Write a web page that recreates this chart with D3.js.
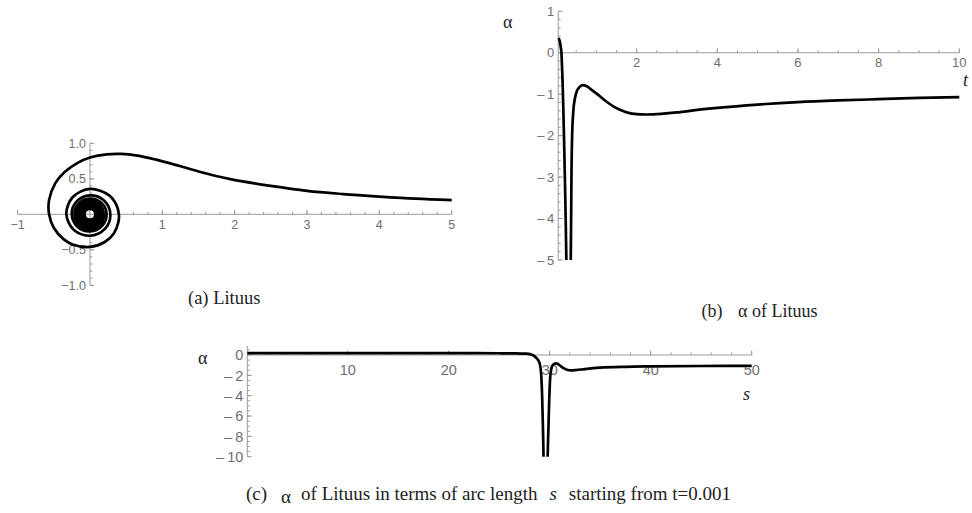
<!DOCTYPE html>
<html>
<head>
<meta charset="utf-8">
<script src="https://cdn.jsdelivr.net/npm/d3@7"></script>
<style>
  body { margin: 0; background: #fff; }
  svg { display: block; }
  .tick-label { font-family: "Liberation Sans", Arial, sans-serif; fill: #6e6e6e; }
  .serif { font-family: "Liberation Serif", "Times New Roman", serif; fill: #222; }
</style>
</head>
<body>
<svg id="chart" width="972" height="513"></svg>
<script>
// (a) lituus, points, outer end first
var spiralX = [5.00, 4.50, 4.00, 3.50, 3.00, 2.50, 1.94, 1.59, 1.24, 0.91, 0.655, 0.43, 0.235, 0.00,
  -0.17, -0.35, -0.48, -0.565, -0.565, -0.50, -0.365, -0.24, 0.00, 0.205, 0.33, 0.392, 0.40,
  0.362, 0.266, 0.00, -0.24, -0.326, -0.221, 0.00, 0.206, 0.282,
  0.194, 0.00, -0.183, -0.252, -0.174, 0.00, 0.166, 0.230,
  0.160, 0.00, -0.154, -0.213, -0.148, 0.00, 0.143, 0.1995];
var spiralY = [0.20, 0.22, 0.25, 0.285, 0.33, 0.40, 0.495, 0.58, 0.68, 0.77, 0.826, 0.85, 0.845, 0.80,
  0.725, 0.595, 0.435, 0.20, 0.00, -0.19, -0.35, -0.425, -0.46, -0.39, -0.27, -0.114, 0.00,
  0.139, 0.266, 0.357, 0.24, 0.00, -0.221, -0.302, -0.206, 0.00,
  0.194, 0.266, 0.183, 0.00, -0.174, -0.241, -0.166, 0.00,
  0.160, 0.221, 0.154, 0.00, -0.148, -0.206, -0.143, 0.00];
// the dense windings near the pole that merge into a black disc
var coreR = [0.19, 0.178, 0.166, 0.154, 0.142, 0.130, 0.118, 0.106, 0.094, 0.083, 0.074];
var aXTicks = [-1, 1, 2, 3, 4, 5];
var aYTicks = [-1, -0.5, 0.5, 1];

// (b) alpha against t
var bT = [0.057, 0.08, 0.10, 0.12, 0.135, 0.15, 0.165, 0.18, 0.20, 0.22, 0.24, 0.26, 0.28,
  0.33, 0.36, 0.375, 0.385, 0.40, 0.43, 0.47, 0.52, 0.58, 0.66, 0.75, 0.85, 1.0, 1.2, 1.4,
  1.6, 1.8, 2.0, 2.2, 2.5, 3.0, 3.5, 4.0, 5.0, 6.0, 7.0, 8.0, 9.0, 10.0];
var bAlpha = [0.35, 0.32, 0.25, 0.12, 0.0, -0.35, -0.75, -1.3, -2.1, -3.0, -4.0, -5.2, -6.5,
  -7.0, -5.6, -4.0, -2.8, -2.0, -1.4, -1.1, -0.92, -0.83, -0.78, -0.80, -0.87, -0.98, -1.14, -1.28,
  -1.38, -1.45, -1.48, -1.49, -1.48, -1.44, -1.38, -1.33, -1.25, -1.19, -1.15, -1.12, -1.09, -1.07];
var bXTicks = [2, 4, 6, 8, 10];
var bYTicks = [1, 0, -1, -2, -3, -4, -5];

// (c) alpha against arc length s
var cS = [0.06, 5, 10, 15, 20, 25, 26.5, 27.7, 28.3, 28.7, 29.0, 29.15, 29.25, 29.35, 29.42,
  29.75, 29.85, 29.95, 30.05, 30.2, 30.4, 30.65, 30.9, 31.3, 31.7, 32.1, 32.6, 33.5, 35, 37.5, 40, 45, 50];
var cAlpha = [0.18, 0.18, 0.18, 0.18, 0.18, 0.17, 0.16, 0.13, 0.0, -0.3, -0.8, -1.8, -4.0, -8.0, -11,
  -11, -8.0, -4.5, -2.2, -1.2, -0.9, -0.82, -0.95, -1.25, -1.45, -1.52, -1.48, -1.38, -1.25, -1.16, -1.12, -1.08, -1.06];
var cXTicks = [10, 20, 30, 40, 50];
var cYTicks = [0, -2, -4, -6, -8, -10];

var svg = d3.select("#chart");
svg.append("rect").attr("width", 972).attr("height", 513).attr("fill", "#fff");

//wide minus like the one mathematica puts in front of negative tick labels
var wideMinus = function(d){ return d < 0 ? "\u2013\u2009" + Math.abs(d) : String(d); };

//mathematica style axes: ticks point inwards, labels outside
function drawAxes(g, sx, sy, o){
	var y0 = sy(o.xAt), x0 = sx(o.yAt);
	var axis = g.append("g").attr("stroke", "#9a9a9a").attr("stroke-width", 1);

	axis.append("line").attr("x1", sx(o.xRange[0])).attr("x2", sx(o.xRange[1]))
		.attr("y1", y0).attr("y2", y0);
	axis.append("line").attr("x1", x0).attr("x2", x0)
		.attr("y1", sy(o.yRange[0])).attr("y2", sy(o.yRange[1]));

	var xMinor = d3.range(Math.ceil(o.xRange[0] / o.xStep) * o.xStep, o.xRange[1] + 1e-9, o.xStep)
		.filter(function(v){ return Math.abs(v) > 1e-9 && v > o.yAt; });
	var yMinor = d3.range(Math.ceil(o.yRange[0] / o.yStep) * o.yStep, o.yRange[1] + 1e-9, o.yStep)
		.filter(function(v){ return Math.abs(v) > 1e-9; });

	axis.selectAll("line.xmin").data(xMinor).enter().append("line").attr("class", "xmin")
		.attr("x1", function(d){ return sx(d); }).attr("x2", function(d){ return sx(d); })
		.attr("y1", y0).attr("y2", y0 - 2.5);
	axis.selectAll("line.xmaj").data(o.xTicks).enter().append("line").attr("class", "xmaj")
		.attr("x1", function(d){ return sx(d); }).attr("x2", function(d){ return sx(d); })
		.attr("y1", y0).attr("y2", y0 - 4.5);
	axis.selectAll("line.ymin").data(yMinor).enter().append("line").attr("class", "ymin")
		.attr("y1", function(d){ return sy(d); }).attr("y2", function(d){ return sy(d); })
		.attr("x1", x0).attr("x2", x0 + 2.5);
	axis.selectAll("line.ymaj").data(o.yTicks).enter().append("line").attr("class", "ymaj")
		.attr("y1", function(d){ return sy(d); }).attr("y2", function(d){ return sy(d); })
		.attr("x1", x0).attr("x2", x0 + 4.5);

	g.selectAll("text.xl").data(o.xTicks).enter().append("text")
		.attr("class", "tick-label xl")
		.attr("x", function(d){ return sx(d); })
		.attr("y", y0 + o.xLabelDy)
		.attr("text-anchor", "middle")
		.style("font-size", o.fontSize + "px")
		.text(o.xFmt || o.fmt);
	g.selectAll("text.yl").data(o.yTicks).enter().append("text")
		.attr("class", "tick-label yl")
		.attr("x", x0 - 4)
		.attr("y", function(d){ return sy(d); })
		.attr("dy", "0.36em")
		.attr("text-anchor", "end")
		.style("font-size", o.fontSize + "px")
		.text(o.fmt);
}

// ---------- (a) Lituus ----------
var ax = d3.scaleLinear().domain([-1, 5]).range([17.6, 451.7]);
var ay = d3.scaleLinear().domain([-1, 1]).range([285.3, 143.3]);
var ga = svg.append("g");

drawAxes(ga, ax, ay, {
	xAt: 0, yAt: 0, xRange: [-1, 5], yRange: [-1, 1],
	xTicks: aXTicks, yTicks: aYTicks, xStep: 0.2, yStep: 0.1,
	fontSize: 12.5, xLabelDy: 14.5, fmt: d3.format(".1f"), xFmt: d3.format("d")
});

var spiral = d3.line()
	.x(function(d){ return ax(d[0]); })
	.y(function(d){ return ay(d[1]); })
	.curve(d3.curveCatmullRom.alpha(0.5));

ga.append("path")
	.datum(d3.zip(spiralX, spiralY))
	.attr("d", spiral)
	.attr("fill", "none").attr("stroke", "#000").attr("stroke-width", 2.7)
	.attr("stroke-linejoin", "round");

ga.selectAll("circle.core").data(coreR).enter().append("circle")
	.attr("class", "core")
	.attr("cx", ax(0)).attr("cy", ay(0))
	.attr("r", function(d){ return ax(d) - ax(0); })
	.attr("fill", "none").attr("stroke", "#000").attr("stroke-width", 2.6);

ga.append("text").attr("class", "serif")
	.attr("x", 188).attr("y", 304)
	.style("font-size", "18.5px")
	.text("(a) Lituus");

// ---------- (b) alpha of Lituus ----------
var bx = d3.scaleLinear().domain([0, 10]).range([556, 959.3]);
var by = d3.scaleLinear().domain([-5, 1]).range([260, 11.3]);
var gb = svg.append("g");

drawAxes(gb, bx, by, {
	xAt: 0, yAt: 0.055, xRange: [0.055, 10], yRange: [-5, 1],
	xTicks: bXTicks, yTicks: bYTicks, xStep: 0.5, yStep: 0.2,
	fontSize: 13, xLabelDy: 14.5, fmt: wideMinus
});

svg.append("clipPath").attr("id", "clip-b").append("rect")
	.attr("x", 540).attr("y", 0).attr("width", 432).attr("height", by(-5));

var lineB = d3.line()
	.x(function(d){ return bx(d[0]); })
	.y(function(d){ return by(d[1]); })
	.curve(d3.curveMonotoneX);

gb.append("path")
	.datum(d3.zip(bT, bAlpha))
	.attr("d", lineB)
	.attr("clip-path", "url(#clip-b)")
	.attr("fill", "none").attr("stroke", "#000").attr("stroke-width", 2.7)
	.attr("stroke-linejoin", "round");

gb.append("text").attr("class", "serif").attr("x", 503).attr("y", 28)
	.style("font-size", "18px").text("α");
gb.append("text").attr("class", "serif").attr("x", 963).attr("y", 86)
	.style("font-size", "18px").style("font-style", "italic").text("t");

var capB = gb.append("text").attr("class", "serif").attr("y", 316.5).style("font-size", "18px");
capB.append("tspan").attr("x", 701.5).text("(b)");
capB.append("tspan").attr("x", 738).text("α of Lituus");

// ---------- (c) alpha in terms of arc length ----------
var cx = d3.scaleLinear().domain([0, 50]).range([246.7, 751.7]);
var cy = d3.scaleLinear().domain([-10, 0]).range([456.7, 355]);
var gc = svg.append("g");

drawAxes(gc, cx, cy, {
	xAt: 0, yAt: 0.06, xRange: [0.06, 50], yRange: [-10, 0.9],
	xTicks: cXTicks, yTicks: cYTicks, xStep: 2, yStep: 0.5,
	fontSize: 14.5, xLabelDy: 20, fmt: wideMinus
});

svg.append("clipPath").attr("id", "clip-c").append("rect")
	.attr("x", 230).attr("y", 330).attr("width", 540).attr("height", cy(-10) - 330);

var lineC = d3.line()
	.x(function(d){ return cx(d[0]); })
	.y(function(d){ return cy(d[1]); })
	.curve(d3.curveMonotoneX);

gc.append("path")
	.datum(d3.zip(cS, cAlpha))
	.attr("d", lineC)
	.attr("clip-path", "url(#clip-c)")
	.attr("fill", "none").attr("stroke", "#000").attr("stroke-width", 2.7)
	.attr("stroke-linejoin", "round");

gc.append("text").attr("class", "serif").attr("x", 198).attr("y", 364)
	.style("font-size", "18px").text("α");
gc.append("text").attr("class", "serif").attr("x", 743).attr("y", 400)
	.style("font-size", "18px").style("font-style", "italic").text("s");

var capC = gc.append("text").attr("class", "serif").attr("y", 500).style("font-size", "19px");
capC.append("tspan").attr("x", 246).text("(c)");
capC.append("tspan").attr("dx", 14).attr("dy", 3).text("α");
capC.append("tspan").attr("dx", 10).attr("dy", -3).text("of Lituus in terms of arc length");
capC.append("tspan").attr("dx", 12).style("font-style", "italic").text("s");
capC.append("tspan").attr("dx", 12).text("starting from t=0.001");
</script>
</body>
</html>
